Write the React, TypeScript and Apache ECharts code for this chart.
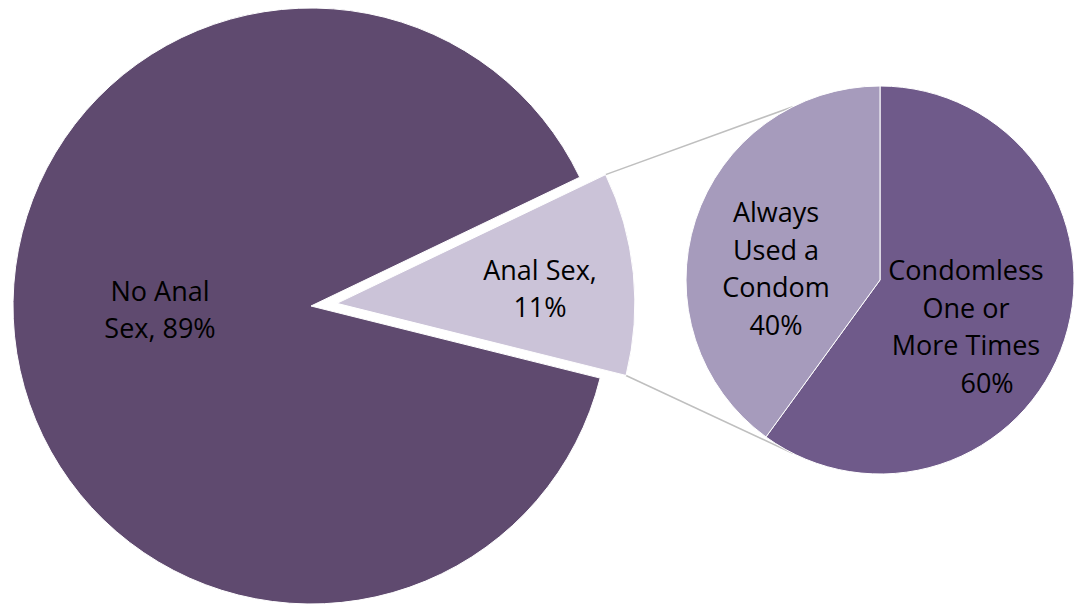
import React, { useEffect, useRef } from "react";
import * as echarts from "echarts";

// Main pie
const mainCategories = ["Anal Sex,", "No Anal\nSex,"];
const mainValues = [11, 89];
// Secondary pie (breakdown of "Anal Sex")
const subCategories = ["Condomless\nOne or\nMore Times", "Always\nUsed a\nCondom"];
const subValues = [60, 40];

const MAIN_COLORS = ["#cbc3d8", "#5f4a6f"];
const SUB_COLORS = ["#6f5a8a", "#a69bbc"];

// Layout
const W = 1083;
const H = 607;
const MAIN_C = [311, 306];
const MAIN_R = 298;
const MAIN_START = 25.6;
const EXPLODE = 26;
const EXPLODED_INDEX = 0;
const SUB_C = [880, 280];
const SUB_R = 194;
const CONNECT_ANGLE = 116.7; // degrees where connector lines meet the secondary pie

// label centres (absolute px)
const MAIN_LABEL_POS = [
  [540, 288],
  [160, 309],
];
const MAIN_LABEL_SEP = ["\n", " "];
const SUB_LABEL_POS = [
  [966, 326],
  [776, 268],
];
const SUB_LABEL_TEXT_PREFIX = ["      ", ""];

const FONT = "Open Sans";
const FONT_SIZE = 27;
const LINE_H = 37.5;

export default function App() {
  const ref = useRef<HTMLDivElement>(null);
  useEffect(() => {
    if (!ref.current) return;
    const chart = echarts.init(ref.current, undefined, { renderer: "svg" });

    const total = mainValues.reduce((a, b) => a + b, 0);
    const sliceDeg = (mainValues[EXPLODED_INDEX] / total) * 360;
    const a1 = (MAIN_START * Math.PI) / 180;
    const a2 = ((MAIN_START - sliceDeg) * Math.PI) / 180;
    const mid = (a1 + a2) / 2;
    const ec = [MAIN_C[0] + EXPLODE * Math.cos(mid), MAIN_C[1] - EXPLODE * Math.sin(mid)];
    const p1 = [ec[0] + MAIN_R * Math.cos(a1), ec[1] - MAIN_R * Math.sin(a1)];
    const p2 = [ec[0] + MAIN_R * Math.cos(a2), ec[1] - MAIN_R * Math.sin(a2)];
    const ca = (CONNECT_ANGLE * Math.PI) / 180;
    const q1 = [SUB_C[0] + SUB_R * Math.cos(ca), SUB_C[1] - SUB_R * Math.sin(ca)];
    const q2 = [SUB_C[0] + SUB_R * Math.cos(ca), SUB_C[1] + SUB_R * Math.sin(ca)];

    const labelStyle = {
      show: true,
      position: "inside" as const,
      color: "#000",
      fontFamily: FONT,
      fontSize: FONT_SIZE,
      lineHeight: LINE_H,
      align: "center" as const,
    };

    const mainSeries = (exploded: boolean) => ({
      type: "pie",
      z: 2,
      center: exploded ? ec : MAIN_C,
      radius: MAIN_R,
      startAngle: MAIN_START,
      clockwise: true,
      avoidLabelOverlap: false,
      emphasis: { disabled: true },
      itemStyle: { borderColor: "#fff", borderWidth: 1 },
      label: {
        ...labelStyle,
        formatter: (p: any) => `${p.name}${MAIN_LABEL_SEP[p.dataIndex]}${p.value}%`,
      },
      labelLine: { show: false },
      labelLayout: (p: any) => ({
        x: MAIN_LABEL_POS[p.dataIndex][0],
        y: MAIN_LABEL_POS[p.dataIndex][1],
        align: "center",
        verticalAlign: "middle",
      }),
      data: mainCategories.map((n, i) => {
        const visible = (i === EXPLODED_INDEX) === exploded;
        return {
          name: n,
          value: mainValues[i],
          itemStyle: visible
            ? { color: MAIN_COLORS[i] }
            : { color: "rgba(0,0,0,0)", borderWidth: 0 },
          label: { show: visible },
        };
      }),
    });

    chart.setOption({
      animation: false,
      backgroundColor: "#ffffff",
      graphic: [
        {
          type: "line",
          z: 1,
          shape: { x1: p1[0], y1: p1[1], x2: q1[0], y2: q1[1] },
          style: { stroke: "#bfbfbf", lineWidth: 1.5 },
        },
        {
          type: "line",
          z: 1,
          shape: { x1: p2[0], y1: p2[1], x2: q2[0], y2: q2[1] },
          style: { stroke: "#bfbfbf", lineWidth: 1.5 },
        },
      ],
      series: [
        mainSeries(false),
        mainSeries(true),
        {
          type: "pie",
          z: 2,
          center: SUB_C,
          radius: SUB_R,
          startAngle: 90,
          clockwise: true,
          avoidLabelOverlap: false,
          emphasis: { disabled: true },
          itemStyle: { borderColor: "#fff", borderWidth: 1 },
          label: {
            ...labelStyle,
            formatter: (p: any) => `${p.name}\n${SUB_LABEL_TEXT_PREFIX[p.dataIndex]}${p.value}%`,
          },
          labelLine: { show: false },
          labelLayout: (p: any) => ({
            x: SUB_LABEL_POS[p.dataIndex][0],
            y: SUB_LABEL_POS[p.dataIndex][1],
            align: "center",
            verticalAlign: "middle",
          }),
          data: subCategories.map((n, i) => ({
            name: n,
            value: subValues[i],
            itemStyle: { color: SUB_COLORS[i] },
          })),
        },
      ],
    });
    return () => chart.dispose();
  }, []);
  return (
    <div
      ref={ref}
      style={{ position: "fixed", left: 0, top: 0, width: W, height: H }}
    />
  );
}
